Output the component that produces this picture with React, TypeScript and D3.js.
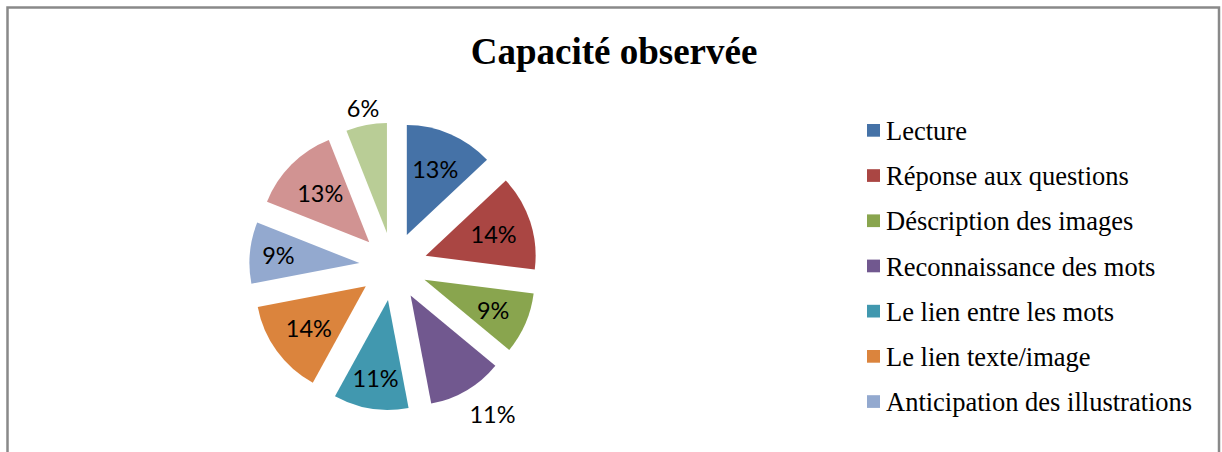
import React from "react";
import * as d3 from "d3";

const title = "Capacité observée";
const categories = [
  "Lecture",
  "Réponse aux questions",
  "Déscription des images",
  "Reconnaissance des mots",
  "Le lien entre les mots",
  "Le lien texte/image",
  "Anticipation des illustrations",
  "Catégorie 8",
  "Catégorie 9",
];
const values = [13, 14, 9, 11, 11, 14, 9, 13, 6];
const colors = [
  "#4572A7",
  "#AA4643",
  "#89A54E",
  "#71588F",
  "#4198AF",
  "#DB843D",
  "#93A9CF",
  "#D19392",
  "#B9CD96",
];
const legendCount = 7;

// layout
const W = 1222;
const H = 452;
const cx = 393.3;
const cy = 266.3;
const R = 110;
const explode = 34;
const labelFactor = [0.65, 0.65, 0.68, 1.31, 0.72, 0.64, 0.74, 0.63, 1.16];
const labelAngleShift = [0, 0, 0, -0.07, 0, 0, 0, 0, 0];

export default function App() {
  const pie = d3
    .pie<number>()
    .sort(null)
    .value((d) => d)
    .startAngle(0)
    .endAngle(2 * Math.PI);
  const arcs = pie(values);
  const arc = d3.arc<d3.PieArcDatum<number>>().innerRadius(0).outerRadius(R);
  const total = d3.sum(values);

  return (
    <svg
      width={W}
      height={H}
      style={{ position: "absolute", left: 0, top: 0, background: "#fff" }}
    >
      <rect x={0} y={0} width={W} height={H} fill="#fff" />
      <rect
        x={7.5}
        y={7.5}
        width={1211.5}
        height={500}
        fill="none"
        stroke="#898989"
        strokeWidth={2.5}
      />
      <text
        x={614}
        y={64}
        textAnchor="middle"
        fontFamily="'Liberation Serif', 'Times New Roman', serif"
        fontWeight="bold"
        fontSize={37}
        fill="#000"
      >
        {title}
      </text>
      <g transform={`translate(${cx},${cy})`}>
        {arcs.map((a, i) => {
          const mid = (a.startAngle + a.endAngle) / 2;
          const dx = Math.sin(mid) * explode;
          const dy = -Math.cos(mid) * explode;
          const lr = R * labelFactor[i];
          const la = mid + labelAngleShift[i];
          const lx = dx + Math.sin(la) * lr;
          const ly = dy - Math.cos(la) * lr;
          const pct = Math.round((values[i] / total) * 100) + "%";
          return (
            <g key={i}>
              <path
                d={arc(a) || ""}
                transform={`translate(${dx},${dy})`}
                fill={colors[i]}
              />
              <text
                x={lx}
                y={ly}
                textAnchor="middle"
                dominantBaseline="central"
                fontFamily="Lato, 'Open Sans', sans-serif"
                fontSize={23.5}
                fill="#000"
              >
                {pct}
              </text>
            </g>
          );
        })}
      </g>
      <g>
        {categories.slice(0, legendCount).map((c, i) => {
          const y = 140 + i * 45.2;
          return (
            <g key={c}>
              <rect x={867} y={y - 16} width={13} height={12.7} fill={colors[i]} />
              <text
                x={886}
                y={y}
                fontFamily="'Liberation Serif', 'Times New Roman', serif"
                fontSize={26.5}
                fill="#000"
              >
                {c}
              </text>
            </g>
          );
        })}
      </g>
    </svg>
  );
}
